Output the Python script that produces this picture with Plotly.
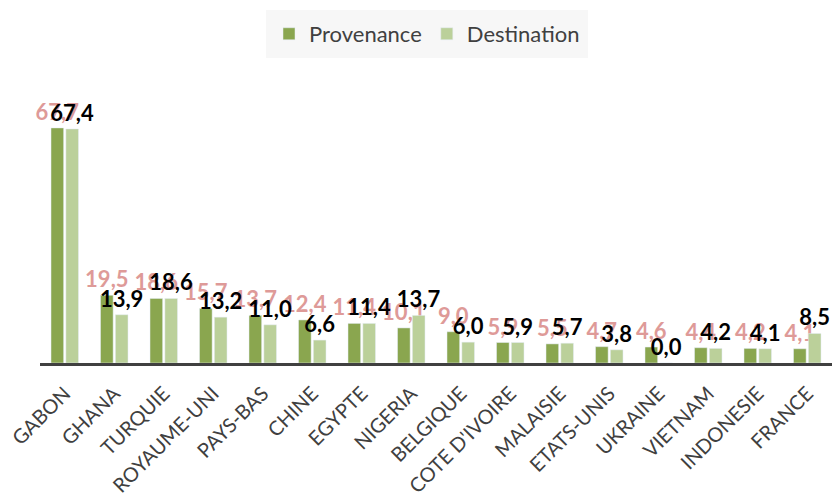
import plotly.graph_objects as go

# Data
pays = ["GABON", "GHANA", "TURQUIE", "ROYAUME-UNI", "PAYS-BAS", "CHINE", "EGYPTE",
        "NIGERIA", "BELGIQUE", "COTE D'IVOIRE", "MALAISIE", "ETATS-UNIS", "UKRAINE",
        "VIETNAM", "INDONESIE", "FRANCE"]
provenance = [67.7, 19.5, 18.6, 15.7, 13.7, 12.4, 11.4, 10.1, 9.0, 5.9, 5.5, 4.7, 4.6, 4.4, 4.2, 4.1]
destination = [67.4, 13.9, 18.6, 13.2, 11.0, 6.6, 11.4, 13.7, 6.0, 5.9, 5.7, 3.8, 0.0, 4.2, 4.1, 8.5]

col_prov = "#8AA64F"
col_dest = "#BBD09A"
font_family = "Lato"

fig = go.Figure()

fig.add_trace(go.Bar(
    x=pays, y=provenance, name="Provenance",
    marker=dict(color=col_prov),
    texttemplate="%{y:.1f}", textposition="outside",
    textfont=dict(family=font_family, size=22, color="#DE9A98", weight="bold"),
    constraintext="none", cliponaxis=False,
))

fig.add_trace(go.Bar(
    x=pays, y=destination, name="Destination",
    marker=dict(color=col_dest),
    texttemplate="%{y:.1f}", textposition="outside",
    textfont=dict(family=font_family, size=22, color="black", weight="bold"),
    constraintext="none", cliponaxis=False,
))

# the page adds an 8px body margin, so the figure starts at (8, 8)
fig.update_layout(
    width=824, height=489,
    barmode="group",
    bargap=0.4,
    bargroupgap=0.15,
    separators=", ",
    plot_bgcolor="white",
    paper_bgcolor="white",
    font=dict(family=font_family, color="#404040"),
    margin=dict(l=32, r=0, t=72, b=134, autoexpand=False),
    xaxis=dict(
        showline=True, linecolor="#404040", linewidth=3,
        showgrid=False, ticks="",
        tickangle=-45,
        ticklabelstandoff=8,
        tickfont=dict(family=font_family, size=20, color="#404040"),
        automargin=False,
    ),
    yaxis=dict(
        range=[0, 81.5], visible=False, showgrid=False, zeroline=False,
    ),
    legend=dict(
        orientation="h",
        xref="container", yref="container",
        x=0.5085, xanchor="center",
        y=0.996, yanchor="top",
        bgcolor="#F7F7F7",
        bordercolor="#F7F7F7", borderwidth=3,
        font=dict(family=font_family, size=22, color="#404040"),
        itemwidth=30,
    ),
    showlegend=True,
)

fig.write_html("out.html")
